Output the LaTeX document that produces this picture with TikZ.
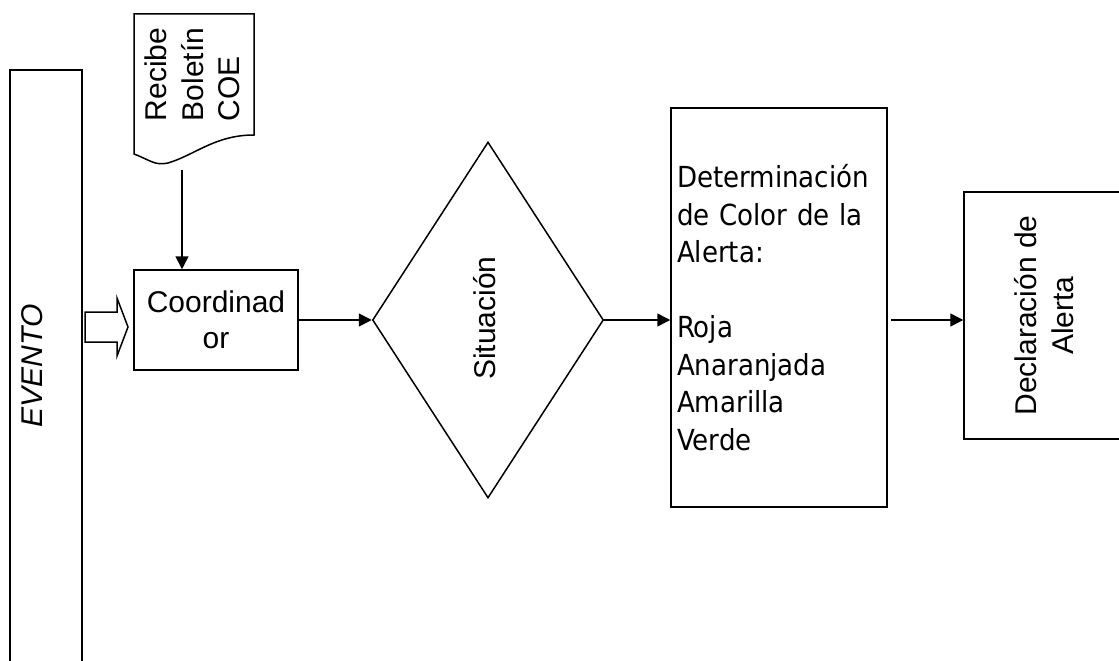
\documentclass[tikz,border=0pt]{standalone}
\usepackage{fontspec}
\setmainfont{Liberation Sans}
\newfontfamily\detfont{DejaVu Sans}[FakeStretch=0.9]
\usetikzlibrary{shapes.geometric}
\usetikzlibrary{arrows.meta}

\begin{document}
\begin{tikzpicture}[x=1pt,y=-1pt,
  linea/.style={line width=1.5pt},
  caja/.style={draw,linea,inner sep=0pt},
  flecha/.style={linea,-{Triangle[length=13pt,width=13pt]}},
  texto/.style={inner sep=0pt,align=left,font=\fontsize{30}{36.5}\selectfont}]
\clip (0,0) rectangle (1119,661);
% banda del evento
\node(E) [caja,minimum width=72pt,minimum height=592pt] at (46,366) {};
\node(EV) [texto,rotate=90,font=\fontsize{30}{36.5}\selectfont\itshape] at (32.5,366) {EVENTO};
\draw[linea] (85,312) -- (117,312) -- (117,298) -- (128,327) -- (117,356) -- (117,342) -- (85,342) -- cycle;
% documento
\draw[linea] (134,14) -- (254,14) -- (254,135) .. controls (215,135) and (195,155) .. (168,163) .. controls (155,166) and (150,160) .. (134,154) -- cycle;
\node(R) [texto,rotate=90] at (192.5,74.5) {Recibe\\Boletín\\COE};
\coordinate(Rb) at (182,170);
% bloques
\node(C) [caja,minimum width=164pt,minimum height=100pt,texto,align=center] at (216,320) {Coordinad\\or};
\node(S) [caja,diamond,minimum width=231pt,minimum height=356pt] at (488,320) {};
\node(SL) [texto,rotate=90,anchor=base] at (495,318) {Situación};
\node(D) [caja,minimum width=216pt,minimum height=399pt,text width=204pt,align=left,
  font=\detfont\fontsize{29}{37.5}\selectfont] at (779,307.5)
  {Determinación\\de Color de la\\Alerta:\\[37.5pt]Roja\\Anaranjada\\Amarilla\\Verde};
\node(A) [caja,texto,align=center,rotate=90,minimum width=247pt,minimum height=160pt] at (1044,315.5) {Declaración de\\Alerta};
% conectores
\draw[flecha] (Rb) -- (Rb |- C.north);
\draw[flecha] (C.east) -- (S.west);
\draw[flecha] (S.east) -- (S.east -| D.west);
\draw[flecha] ([xshift=3pt]D.east |- S.east) -- (S.east -| A.north);
\end{tikzpicture}
\end{document}
